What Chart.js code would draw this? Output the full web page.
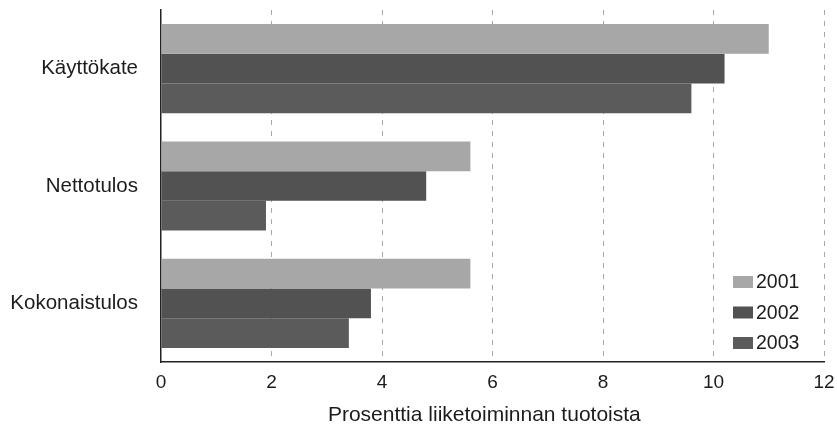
<!DOCTYPE html>
<html>
<head>
<meta charset="utf-8">
<script src="https://cdn.jsdelivr.net/npm/chart.js@4"></script>
<style>
  html, body { margin: 0; padding: 0; background: #fff; }
  #wrap { width: 837px; height: 426px; }
</style>
</head>
<body>
<div id="wrap"><canvas id="grafico" width="837" height="426"></canvas></div>
<script>
const kategoriat = ["Käyttökate", "Nettotulos", "Kokonaistulos"];
const vuodet = ["2001", "2002", "2003"];
const arvot2001 = [11.0, 5.6, 5.6];
const arvot2002 = [10.2, 4.8, 3.8];
const arvot2003 = [9.6, 1.9, 3.4];
const xTicks = [0, 2, 4, 6, 8, 10, 12];
const akseliOtsikko = "Prosenttia liiketoiminnan tuotoista";

const fontti = "'Liberation Sans', Arial, sans-serif";
const tekstiVari = "#1c1c1c";

// legend inside the plot, bottom right
const selite = {
    id: "selite",
    afterDraw(chart) {
        const ctx = chart.ctx;
        const a = chart.chartArea;
        ctx.save();
        ctx.font = "19.5px " + fontti;
        ctx.textBaseline = "middle";
        ctx.textAlign = "left";
        chart.data.datasets.forEach((ds, i) => {
            const y = a.bottom - 80 + i * 30.5;
            ctx.fillStyle = ds.backgroundColor;
            ctx.fillRect(a.right - 91, y - 6, 20, 12);
            ctx.fillStyle = tekstiVari;
            ctx.fillText(ds.label, a.right - 68, y + 1);
        });
        ctx.restore();
    }
};

const ctx = document.getElementById("grafico").getContext("2d");

new Chart(ctx, {
    type: "bar",
    data: {
        labels: kategoriat,
        datasets: [
            { label: vuodet[0], data: arvot2001, backgroundColor: "#a7a7a7" },
            { label: vuodet[1], data: arvot2002, backgroundColor: "#525252" },
            { label: vuodet[2], data: arvot2003, backgroundColor: "#5b5b5b" }
        ]
    },
    options: {
        indexAxis: "y",
        responsive: false,
        animation: false,
        datasets: { bar: { categoryPercentage: 0.76, barPercentage: 1.0, borderWidth: 0 } },
        layout: { padding: { top: 10, right: 13, left: 0, bottom: 0 } },
        plugins: { legend: { display: false }, tooltip: { enabled: false } },
        scales: {
            x: {
                min: 0,
                max: 12,
                afterBuildTicks: (s) => { s.ticks = xTicks.map(v => ({ value: v })); },
                afterFit: (s) => { s.height = 64; s.paddingLeft = 0; s.paddingRight = 0; },
                grid: {
                    drawTicks: false,
                    color: (c) => c.tick && c.tick.value === 0 ? "rgba(0,0,0,0)" : "#a8a8a8",
                    lineWidth: 1
                },
                border: { display: true, color: "#222", width: 1.5, dash: [5, 6] },
                ticks: { color: tekstiVari, font: { family: fontti, size: 19 }, padding: 9 },
                title: {
                    display: true,
                    // trailing spaces pull the centred title slightly left, as in the original
                    text: akseliOtsikko + "\u2002 ",
                    color: tekstiVari,
                    font: { family: fontti, size: 21, lineHeight: 1 },
                    padding: { top: 0, bottom: 0 }
                }
            },
            y: {
                afterFit: (s) => { s.width = 161; s.paddingTop = 0; s.paddingBottom = 0; },
                grid: { display: false, drawTicks: false },
                border: { display: true, color: "#222", width: 1.5 },
                ticks: { color: tekstiVari, font: { family: fontti, size: 20.5 }, padding: 23 }
            }
        }
    },
    plugins: [selite]
});
</script>
</body>
</html>
